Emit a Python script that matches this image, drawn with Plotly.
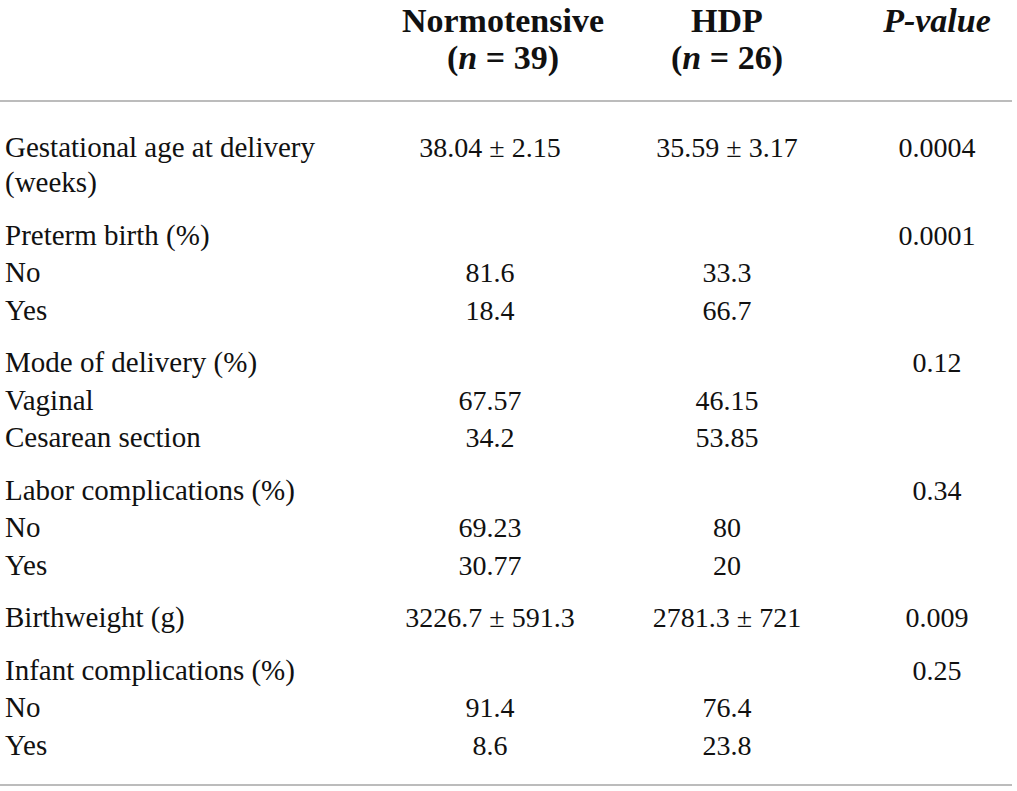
import plotly.graph_objects as go

# table content
header_top = ["<b>Normotensive</b>", "<b>HDP</b>", "<b><i>P-value</i></b>"]
header_bottom = ["<b>(<i>n</i> = 39)</b>", "<b>(<i>n</i> = 26)</b>", ""]

row_labels = [
    "Gestational age at delivery", "(weeks)",
    "Preterm birth (%)", "No", "Yes",
    "Mode of delivery (%)", "Vaginal", "Cesarean section",
    "Labor complications (%)", "No", "Yes",
    "Birthweight (g)",
    "Infant complications (%)", "No", "Yes",
]
normotensive = ["38.04 ± 2.15", "", "", "81.6", "18.4", "", "67.57", "34.2",
                "", "69.23", "30.77", "3226.7 ± 591.3", "", "91.4", "8.6"]
hdp = ["35.59 ± 3.17", "", "", "33.3", "66.7", "", "46.15", "53.85",
       "", "80", "20", "2781.3 ± 721", "", "76.4", "23.8"]
p_values = ["0.0004", "", "0.0001", "", "", "0.12", "", "", "0.34", "", "",
            "0.009", "0.25", "", ""]
# kind of each row: "g" starts a group, "w" is a wrapped line, "r" a sub row
row_kind = ["g", "w", "g", "r", "r", "g", "r", "r", "g", "r", "r", "g", "g", "r", "r"]

# layout constants, in window pixels
W, H = 1017, 791
FIRST_ROW = 150
STEP = {"g": 52.5, "w": 35, "r": 37.5}
LABEL_X = 5
COL_X = [490, 727, 937]
HEAD_X = [503, 727, 937]
HEAD_Y = [23, 60]
RULE_TOP, RULE_BOTTOM, RULE_END = 101, 785, 1012
SERIF = "Liberation Serif"

row_y = []
for i, kind in enumerate(row_kind):
    row_y.append(FIRST_ROW if i == 0 else row_y[-1] + STEP[kind])

fig = go.Figure()

# row labels, left aligned
fig.add_trace(go.Scatter(
    x=[LABEL_X] * len(row_labels), y=row_y, text=row_labels,
    mode="text", textposition="middle right", cliponaxis=False,
    textfont=dict(family=SERIF, size=29, color="#111111"),
    hoverinfo="skip",
))

# value columns, centred
for cx, col in zip(COL_X, [normotensive, hdp, p_values]):
    fig.add_trace(go.Scatter(
        x=[cx] * len(col), y=row_y, text=col,
        mode="text", textposition="middle center", cliponaxis=False,
        textfont=dict(family=SERIF, size=28, color="#111111"),
        hoverinfo="skip",
    ))

# two header lines
for hy, line in zip(HEAD_Y, [header_top, header_bottom]):
    fig.add_trace(go.Scatter(
        x=HEAD_X, y=[hy] * len(line), text=line,
        mode="text", textposition="middle center", cliponaxis=False,
        textfont=dict(family=SERIF, size=34, color="#111111"),
        hoverinfo="skip",
    ))

for ry in [RULE_TOP, RULE_BOTTOM]:
    fig.add_shape(type="line", x0=0, x1=RULE_END, y0=ry, y1=ry,
                  xref="x", yref="y", line=dict(color="#a6a6a6", width=1.5))

fig.update_layout(
    width=W, height=H,
    margin=dict(l=0, r=0, t=0, b=0),
    paper_bgcolor="white", plot_bgcolor="white",
    showlegend=False,
    xaxis=dict(range=[0, W], visible=False, fixedrange=True),
    yaxis=dict(range=[H, 0], visible=False, fixedrange=True),
)

# drop the default body margin so the figure fills the window from its corner
fig.write_html("out.html", config={"displayModeBar": False},
               post_script="document.body.style.margin = '0';")
